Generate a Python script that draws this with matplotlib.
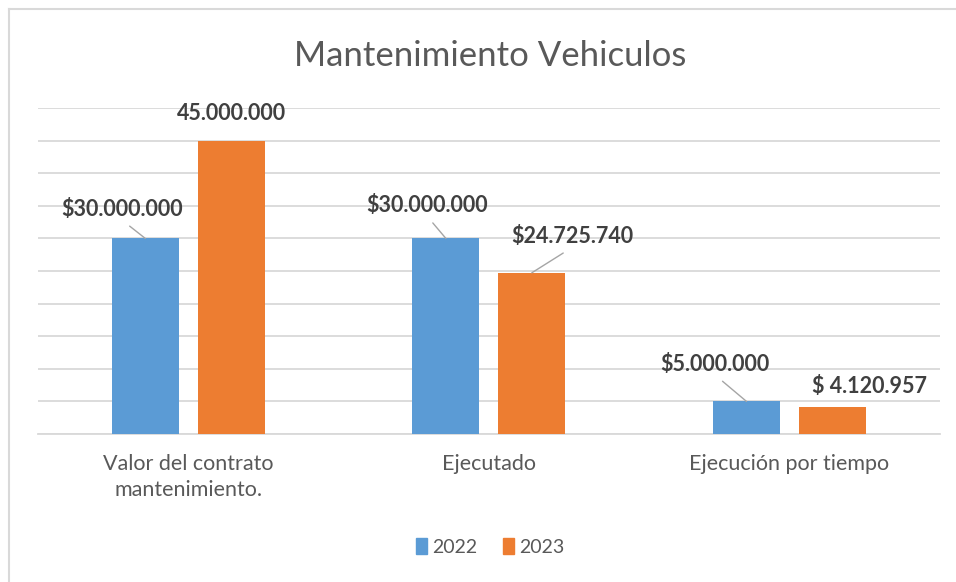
import numpy as np
import matplotlib
matplotlib.use('Agg')
import matplotlib.pyplot as plt
from matplotlib.lines import Line2D
from matplotlib.patches import Patch

# Dados do gráfico
categorias = ['Valor del contrato\nmantenimiento.', 'Ejecutado', 'Ejecución por tiempo']
series = ['2022', '2023']
valores_2022 = [30000000, 30000000, 5000000]
valores_2023 = [45000000, 24725740, 4120957]
rotulos_2022 = ['$30.000.000', '$30.000.000', '$5.000.000']
rotulos_2023 = ['45.000.000', '$24.725.740', '$ 4.120.957']

cor_azul = '#5B9BD5'
cor_laranja = '#ED7D31'
cor_grade = '#D9D9D9'
cor_texto = '#595959'
cor_rotulo = '#404040'

plt.rcParams['font.family'] = ['Lato', 'DejaVu Sans']

fig = plt.figure(figsize=(9.56, 5.82), dpi=100)
ax = fig.add_axes([0.0397, 0.2543, 0.9433, 0.5601])

x = np.arange(len(categorias))
largura = 0.223
desloc = 0.143

barras_a = ax.bar(x - desloc, valores_2022, largura, color=cor_azul, zorder=3)
barras_b = ax.bar(x + desloc, valores_2023, largura, color=cor_laranja, zorder=3)

ax.set_xlim(-0.5, 2.5)
ax.set_ylim(0, 50000000)
ax.set_yticks(np.arange(0, 50000001, 5000000))
ax.yaxis.grid(True, color=cor_grade, linewidth=1.3, zorder=0)
ax.tick_params(axis='y', left=False, labelleft=False)
ax.tick_params(axis='x', bottom=False, colors=cor_texto, pad=11)
ax.set_xticks(x)
ax.set_xticklabels(categorias, color=cor_texto, fontsize=15.5, linespacing=1.35)
for s in ['top', 'right', 'left']:
    ax.spines[s].set_visible(False)
ax.spines['bottom'].set_color(cor_grade)
ax.spines['bottom'].set_linewidth(1.3)

# Rótulos (deslocamento em pixels, linha guia ou não)
offsets_2022 = [(-23.5, 29, True), (-19, 33, True), (-31.5, 37, True)]
offsets_2023 = [(0, 27, False), (40.5, 36, True), (37.5, 21, False)]

def rotular(barras, rotulos, offsets):
    for b, r, (dx, dy, linha) in zip(barras, rotulos, offsets):
        xb = b.get_x() + b.get_width() / 2
        yb = b.get_height()
        props = None
        if linha:
            props = dict(arrowstyle='-', color='#A5A5A5', lw=1.0,
                         relpos=(0.5, 0), shrinkA=4, shrinkB=0)
        ax.annotate(r, xy=(xb, yb), xytext=(dx, dy), textcoords='offset pixels',
                    ha='center', va='center', fontsize=15.5, fontweight='bold',
                    color=cor_rotulo, arrowprops=props, zorder=5)

rotular(barras_a, rotulos_2022, offsets_2022)
rotular(barras_b, rotulos_2023, offsets_2023)

fig.text(0.5126, 0.903, 'Mantenimiento Vehiculos', ha='center', va='center',
         fontsize=25, color=cor_texto)

handles = [Patch(color=cor_azul), Patch(color=cor_laranja)]
fig.legend(handles, series, loc='center', bbox_to_anchor=(0.513, 0.06), ncol=2,
           frameon=False, fontsize=14, labelcolor=cor_texto, handlelength=0.55,
           handleheight=0.85, handletextpad=0.3, columnspacing=1.3)

# Moldura
fig.add_artist(Line2D([0.0094, 0.0094], [0, 0.9845], color=cor_grade, lw=1.5))
fig.add_artist(Line2D([0.0094, 1], [0.9845, 0.9845], color=cor_grade, lw=1.5))

fig.savefig('out.png', dpi=100)
